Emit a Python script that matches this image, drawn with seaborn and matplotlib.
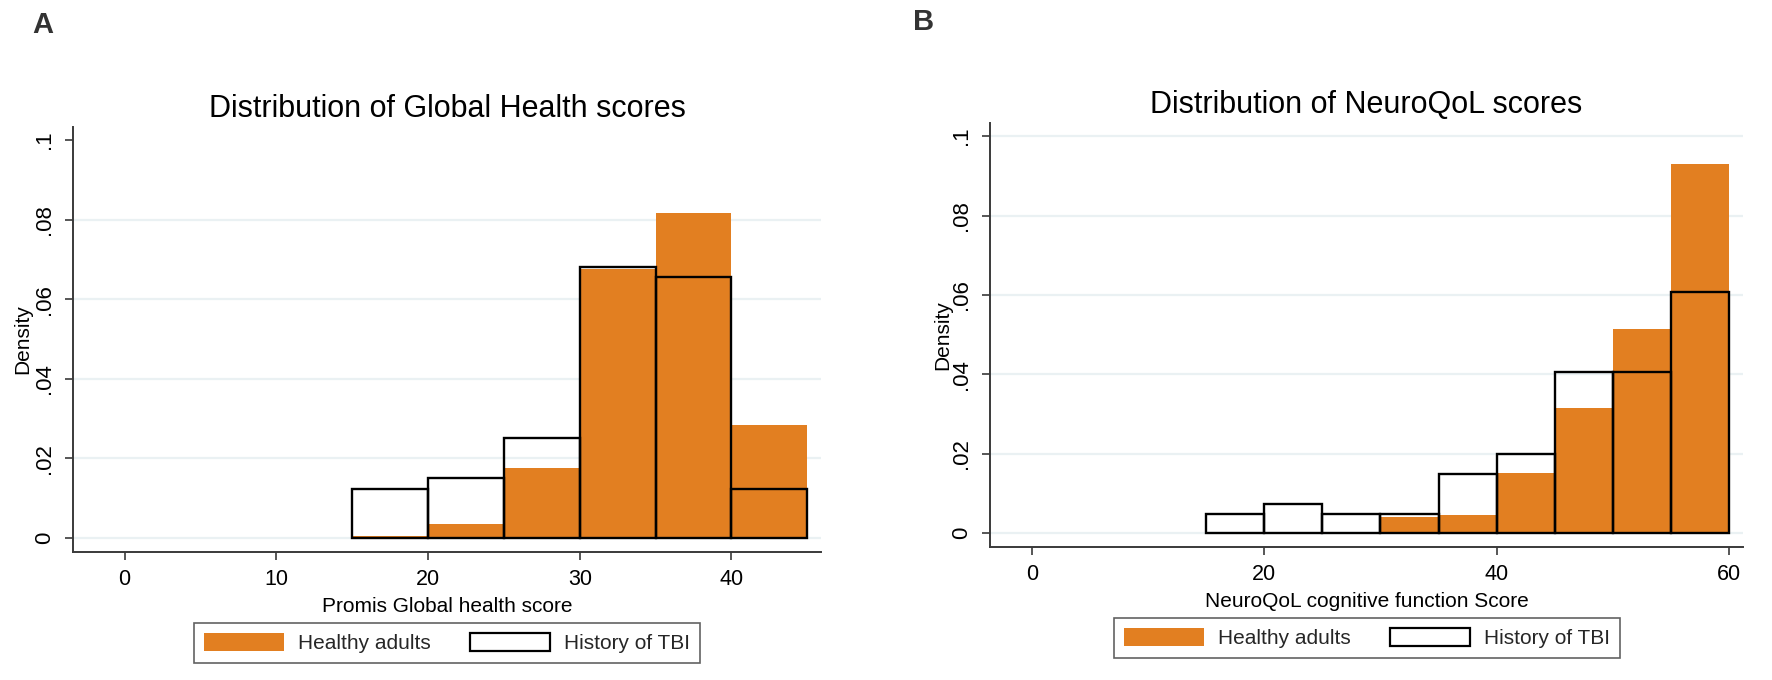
import matplotlib
matplotlib.use("Agg")
import matplotlib.pyplot as plt
import seaborn as sns
import numpy as np
import pandas as pd
from matplotlib.patches import Patch

# ========== Data (density per 5-point bin) ==========
# Panel A - Promis Global health score
bins_a = [15, 20, 25, 30, 35, 40, 45]
healthy_a = [0.0004, 0.0035, 0.0177, 0.0676, 0.0817, 0.0283]
tbi_a = [0.0123, 0.0150, 0.0251, 0.0682, 0.0656, 0.0123]
xticks_a = [0, 10, 20, 30, 40]

# Panel B - NeuroQoL cognitive function score
bins_b = [15, 20, 25, 30, 35, 40, 45, 50, 55, 60]
healthy_b = [0.0, 0.0, 0.0, 0.0040, 0.0045, 0.0152, 0.0316, 0.0513, 0.0929]
tbi_b = [0.0049, 0.0074, 0.0047, 0.0047, 0.0149, 0.0200, 0.0405, 0.0405, 0.0607]
xticks_b = [0, 20, 40, 60]

yticks = [0, 0.02, 0.04, 0.06, 0.08, 0.1]
ytick_labels = ["0", ".02", ".04", ".06", ".08", ".1"]

ORANGE = "#E27F21"
GRID = "#EAF1F3"
SPINE = "#3a3a3a"

sns.set_theme(style="white")
plt.rcParams["font.family"] = ["Liberation Sans", "DejaVu Sans"]

fig = plt.figure(figsize=(17.72, 6.8), dpi=100)
W, H = 1772, 680


def px_axes(left, top, right, bottom):
    return fig.add_axes([left / W, 1 - bottom / H, (right - left) / W, (bottom - top) / H])


def draw_panel(ax, bins, healthy, tbi, xticks, xlim, title, xlabel, hide_top_grid, ylab_x):
    edges = np.array(bins, dtype=float)
    centers = (edges[:-1] + edges[1:]) / 2
    df = pd.DataFrame({"x": centers, "healthy": healthy, "tbi": tbi})
    width = edges[1] - edges[0]
    brange = (edges[0], edges[-1])

    sns.histplot(data=df, x="x", weights="healthy", binwidth=width, binrange=brange,
                 color=ORANGE, alpha=1, edgecolor="none", linewidth=0, ax=ax, zorder=2)
    sns.histplot(data=df, x="x", weights="tbi", binwidth=width, binrange=brange,
                 fill=False, color="black", linewidth=1.7, ax=ax, zorder=3)

    ax.set_xlim(*xlim)
    ax.set_ylim(-0.0035, 0.1033)
    ax.set_xticks(xticks)
    ax.set_xticklabels([str(t) for t in xticks])
    ax.set_yticks(yticks)
    ax.set_yticklabels(ytick_labels)

    ax.set_axisbelow(True)
    ax.grid(axis="y", color=GRID, linewidth=1.6)
    ax.grid(axis="x", visible=False)
    if hide_top_grid:
        ax.get_ygridlines()[-1].set_visible(False)

    for s in ["top", "right"]:
        ax.spines[s].set_visible(False)
    for s in ["left", "bottom"]:
        ax.spines[s].set_color(SPINE)
        ax.spines[s].set_linewidth(1.4)

    ax.tick_params(axis="both", which="major", length=6, width=1.2, color=SPINE,
                   labelcolor="black", direction="out", bottom=True, left=True)
    ax.tick_params(axis="y", pad=7, labelsize=16)
    ax.tick_params(axis="x", pad=6, labelsize=15.5)
    plt.setp(ax.get_yticklabels(), rotation=90, va="center")

    ax.set_title(title, fontsize=22, pad=7, color="black")
    ax.set_xlabel(xlabel, fontsize=15, labelpad=5, color="black")
    ax.set_ylabel("Density", fontsize=15, color="black")
    ax.yaxis.set_label_coords(ylab_x, 0.5)
    ax.set_facecolor("white")


ax_a = px_axes(73, 127, 821, 552)
draw_panel(ax_a, bins_a, healthy_a, tbi_a, xticks_a, (-3.4, 45.9),
           "Distribution of Global Health scores", "Promis Global health score", True, -0.055)

ax_b = px_axes(990, 123, 1743, 547)
draw_panel(ax_b, bins_b, healthy_b, tbi_b, xticks_b, (-3.6, 61.2),
           "Distribution of NeuroQoL scores", "NeuroQoL cognitive function Score", False, -0.050)

# ========== Legends ==========
handles = [Patch(facecolor=ORANGE, edgecolor="none", label="Healthy adults"),
           Patch(facecolor="white", edgecolor="black", linewidth=1.6, label="History of TBI")]

for cx, cy in [(447, 643), (1367, 638)]:
    leg = fig.legend(handles=handles, loc="center", bbox_to_anchor=(cx / W, 1 - cy / H),
                     ncol=2, fontsize=15, frameon=True, fancybox=False, shadow=False,
                     handlelength=3.85, handleheight=1.0, handletextpad=0.67,
                     columnspacing=1.9, borderpad=0.45)
    leg.get_frame().set_edgecolor(SPINE)
    leg.get_frame().set_linewidth(1.2)

# ========== Panel letters ==========
fig.text(43 / W, 1 - 25 / H, "A", fontsize=21, fontweight="bold", color="#333333",
         ha="center", va="center")
fig.text(924 / W, 1 - 22 / H, "B", fontsize=21, fontweight="bold", color="#333333",
         ha="center", va="center")

fig.savefig("out.png", dpi=100, facecolor="white")
